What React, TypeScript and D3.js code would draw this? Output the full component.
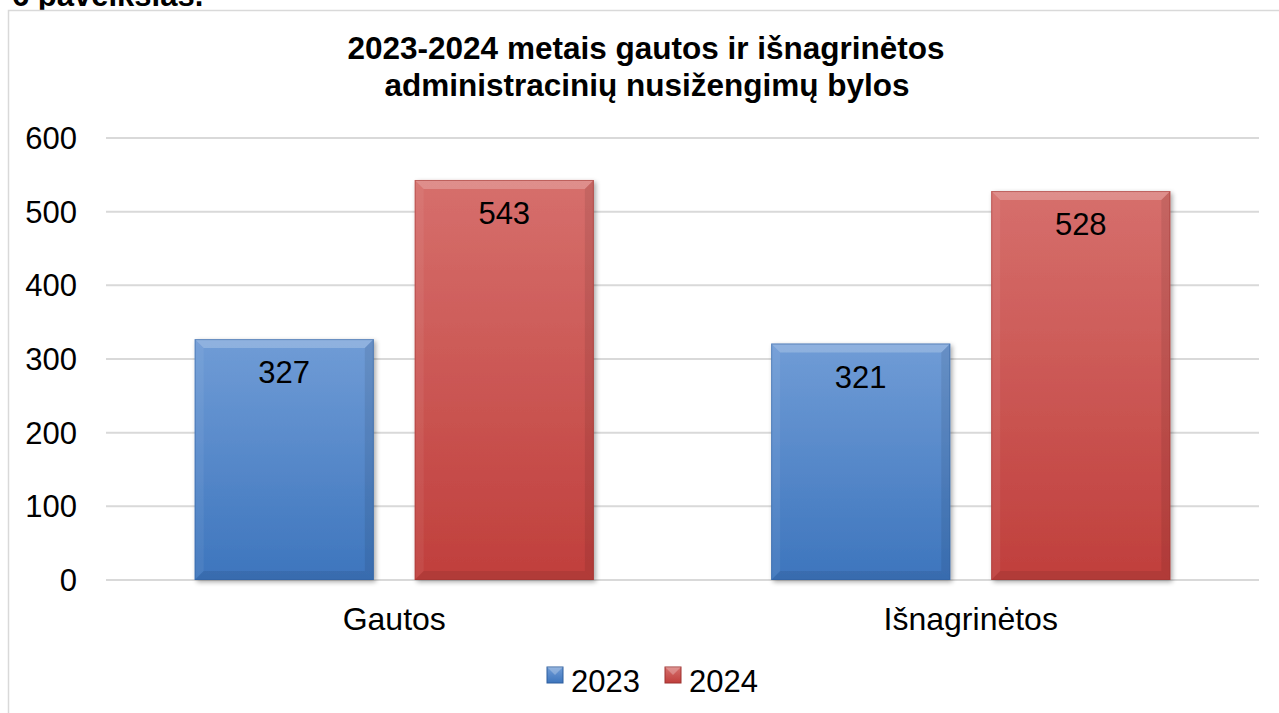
import React from "react";
import * as d3 from "d3";

const categories = ["Gautos", "Išnagrinėtos"];
const seriesNames = ["2023", "2024"];
const values2023 = [327, 321];
const values2024 = [543, 528];
const yTicks = [0, 100, 200, 300, 400, 500, 600];

const W = 1279;
const H = 713;
const FONT = "Arial, 'Liberation Sans', Helvetica, sans-serif";

const palette: Record<string, { top: string; bottom: string; edge: string }> = {
  "2023": { top: "#709cd6", bottom: "#3d75bd", edge: "#2f5f9e" },
  "2024": { top: "#d66f6c", bottom: "#c03f3c", edge: "#9e3330" },
};

export default function App() {
  const x0 = d3.scaleBand<string>().domain(categories).range([106, 1259]).paddingInner(0).paddingOuter(0);
  const x1 = d3
    .scaleBand<string>()
    .domain(seriesNames)
    .range([0, x0.bandwidth()])
    .paddingInner(0.186)
    .paddingOuter(0.403);
  const y = d3.scaleLinear().domain([0, 600]).range([580, 138]);

  const data = categories.map((c, i) => ({
    cat: c,
    vals: [
      { s: "2023", v: values2023[i] },
      { s: "2024", v: values2024[i] },
    ],
  }));

  const bevel = 9;

  return (
    <svg width={W} height={H} style={{ position: "absolute", left: 0, top: 0 }} fontFamily={FONT}>
      <defs>
        {seriesNames.map((s) => (
          <linearGradient key={s} id={`g${s}`} x1="0" y1="0" x2="0" y2="1">
            <stop offset="0" stopColor={palette[s].top} />
            <stop offset="1" stopColor={palette[s].bottom} />
          </linearGradient>
        ))}
        <filter id="shadow" x="-10%" y="-10%" width="125%" height="125%">
          <feGaussianBlur in="SourceAlpha" stdDeviation="2.5" />
          <feOffset dx="2" dy="2" result="b" />
          <feComponentTransfer>
            <feFuncA type="linear" slope="0.35" />
          </feComponentTransfer>
          <feMerge>
            <feMergeNode />
            <feMergeNode in="SourceGraphic" />
          </feMerge>
        </filter>
      </defs>
      <rect x={0} y={0} width={W} height={H} fill="#ffffff" />
      {/* caption cut at top */}
      <text x={12} y={6} fontSize={31} fontWeight="bold" fill="#000">
        6 paveikslas.
      </text>
      {/* chart border */}
      <rect x={8.5} y={10.5} width={W + 20} height={H + 20} fill="#ffffff" stroke="#d9d9d9" strokeWidth={1.5} />

      {/* title */}
      <text x={646} y={59} fontSize={31.5} fontWeight="bold" textAnchor="middle" fill="#000">
        2023-2024 metais gautos ir išnagrinėtos
      </text>
      <text x={647} y={96} fontSize={31.5} fontWeight="bold" textAnchor="middle" fill="#000">
        administracinių nusižengimų bylos
      </text>

      {/* grid and y ticks */}
      {yTicks.map((t) => (
        <g key={t}>
          <line x1={106} x2={1259} y1={y(t)} y2={y(t)} stroke="#d9d9d9" strokeWidth={2} />
          <text x={77} y={y(t) + 11} fontSize={31} textAnchor="end" fill="#000">
            {t}
          </text>
        </g>
      ))}

      {/* bars */}
      {data.map((d) => (
        <g key={d.cat} transform={`translate(${x0(d.cat)},0)`}>
          {d.vals.map((b) => {
            const bx = x1(b.s)!;
            const bw = x1.bandwidth();
            const by = y(b.v);
            const bh = y(0) - by;
            const p = palette[b.s];
            return (
              <g key={b.s}>
                <rect x={bx} y={by} width={bw} height={bh} fill={`url(#g${b.s})`} filter="url(#shadow)" />
                <polygon
                  points={`${bx},${by} ${bx + bw},${by} ${bx + bw - bevel},${by + bevel} ${bx + bevel},${by + bevel}`}
                  fill="#ffffff"
                  opacity={0.22}
                />
                <polygon
                  points={`${bx},${by} ${bx + bevel},${by + bevel} ${bx + bevel},${by + bh - bevel} ${bx},${by + bh}`}
                  fill="#ffffff"
                  opacity={0.06}
                />
                <polygon
                  points={`${bx + bw},${by} ${bx + bw - bevel},${by + bevel} ${bx + bw - bevel},${by + bh - bevel} ${bx + bw},${by + bh}`}
                  fill="#000000"
                  opacity={0.08}
                />
                <polygon
                  points={`${bx},${by + bh} ${bx + bw},${by + bh} ${bx + bw - bevel},${by + bh - bevel} ${bx + bevel},${by + bh - bevel}`}
                  fill="#000000"
                  opacity={0.08}
                />
                <rect x={bx + 0.5} y={by + 0.5} width={bw - 1} height={bh - 1} fill="none" stroke={p.edge} strokeOpacity={0.5} strokeWidth={1} />
                <text x={bx + bw / 2} y={by + 44} fontSize={31} textAnchor="middle" fill="#000">
                  {b.v}
                </text>
              </g>
            );
          })}
          <text x={x0.bandwidth() / 2} y={630} fontSize={32} textAnchor="middle" fill="#000">
            {d.cat}
          </text>
        </g>
      ))}

      {/* legend */}
      {seriesNames.map((s, i) => {
        const lx = [547, 665][i];
        const p = palette[s];
        return (
          <g key={s}>
            <rect x={lx} y={667} width={16} height={16} fill={`url(#g${s})`} stroke={p.edge} strokeWidth={1} />
            <polygon points={`${lx},${667} ${lx + 16},${667} ${lx + 8},${675}`} fill="#fff" opacity={0.25} />
            <text x={lx + 24} y={692} fontSize={31} fill="#000">
              {s}
            </text>
          </g>
        );
      })}
    </svg>
  );
}
